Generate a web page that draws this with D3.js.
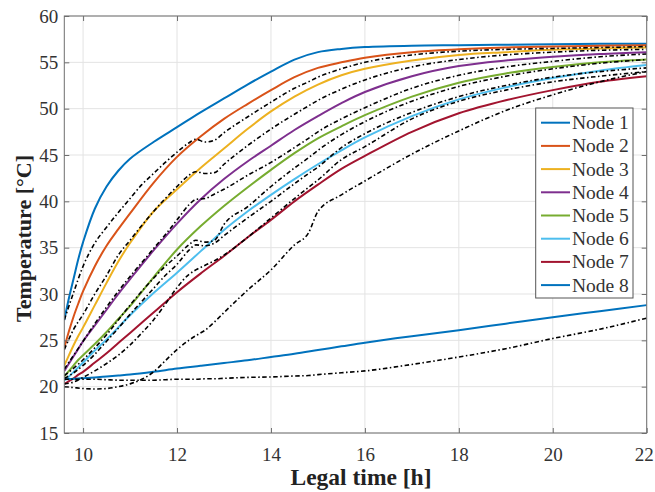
<!DOCTYPE html>
<html><head><meta charset="utf-8">
<script src="https://cdn.jsdelivr.net/npm/d3@7"></script>
<style>body{margin:0;background:#fff}</style></head>
<body>
<svg id="chart" width="655" height="492"></svg>
<script>
// ---------- data ----------
const xTicks = [10, 12, 14, 16, 18, 20, 22];
const yTicks = [15, 20, 25, 30, 35, 40, 45, 50, 55, 60];
const nodeNames = ["Node 1","Node 2","Node 3","Node 4","Node 5","Node 6","Node 7","Node 8"];
const nodeColors = ["#0072BD","#D95319","#EDB120","#7E2F8E","#77AC30","#4DBEEE","#A2142F","#0072BD"];

// simulated (model) curves
const tModel = [9.6, 9.7, 9.8, 9.9, 10, 10.25, 10.5, 10.75, 11, 11.5, 12, 12.5, 13, 13.5, 14, 14.5, 15, 15.5, 16, 17, 18, 19, 20, 21, 22];
const node1 = [27.2, 29.6, 31.7, 33.8, 35.6, 39.2, 41.6, 43.3, 44.6, 46.4, 48.0, 49.6, 51.1, 52.6, 54.0, 55.3, 56.1, 56.45, 56.65, 56.8, 56.85, 56.9, 56.95, 57.0, 57.0];
const node2 = [24.2, 26.0, 27.6, 29.0, 30.3, 33.0, 35.2, 37.0, 38.7, 42.0, 44.8, 47.0, 48.9, 50.5, 52.0, 53.4, 54.4, 55.0, 55.5, 56.1, 56.4, 56.6, 56.7, 56.8, 56.85];
const node3 = [22.3, 23.4, 24.5, 25.5, 26.4, 28.8, 31.2, 33.5, 35.5, 38.9, 41.3, 43.6, 45.7, 47.8, 49.7, 51.3, 52.6, 53.6, 54.3, 55.2, 55.8, 56.1, 56.35, 56.5, 56.6];
const node4 = [21.7, 22.5, 23.3, 24.1, 24.9, 26.6, 28.3, 30.0, 31.6, 34.7, 37.6, 40.2, 42.4, 44.3, 46.0, 47.7, 49.2, 50.6, 51.8, 53.5, 54.6, 55.2, 55.6, 55.9, 56.1];
const node5 = [21.1, 21.7, 22.3, 22.9, 23.4, 24.6, 25.9, 27.3, 28.7, 31.8, 34.8, 37.3, 39.5, 41.5, 43.4, 45.2, 46.8, 48.1, 49.3, 51.3, 52.8, 53.8, 54.5, 55.0, 55.3];
const node6 = [20.7, 21.1, 21.6, 22.1, 22.6, 23.9, 25.1, 26.4, 27.7, 30.1, 32.3, 34.6, 36.9, 38.9, 40.7, 42.4, 44.0, 45.5, 46.9, 49.2, 51.0, 52.3, 53.3, 54.1, 54.7];
const node7 = [20.3, 20.6, 20.9, 21.3, 21.6, 22.6, 23.6, 24.7, 25.8, 28.0, 30.2, 32.2, 34.1, 36.1, 38.0, 40.0, 41.8, 43.5, 44.9, 47.5, 49.5, 50.9, 52.0, 52.9, 53.5];
const node8 = [20.8, 20.82, 20.85, 20.88, 20.92, 21.0, 21.1, 21.2, 21.3, 21.6, 21.95, 22.25, 22.55, 22.85, 23.2, 23.55, 23.95, 24.35, 24.75, 25.45, 26.1, 26.8, 27.5, 28.15, 28.8];

// measured curves (black dash-dot)
const tMeas = [9.6, 9.8, 10, 10.25, 10.5, 10.75, 11, 11.25, 11.5, 11.75, 12, 12.25, 12.4, 12.6, 12.8, 13, 13.5, 14, 14.5, 14.8, 15, 15.5, 16, 17, 18, 19, 20, 21, 22];
const meas1 = [27.2, 30.2, 33.0, 35.5, 37.2, 38.8, 40.3, 41.8, 43.0, 44.2, 45.3, 46.3, 46.7, 46.4, 46.6, 47.4, 49.1, 50.7, 52.2, 52.9, 53.4, 54.3, 55.0, 55.8, 56.2, 56.4, 56.5, 56.6, 56.7];
const meas2 = [24.0, 26.2, 27.8, 30.0, 32.0, 34.2, 35.8, 37.4, 38.9, 40.3, 41.6, 42.8, 43.2, 43.0, 43.1, 44.0, 46.0, 47.8, 49.4, 50.3, 50.9, 52.1, 53.1, 54.5, 55.3, 55.8, 56.1, 56.3, 56.4];
const meas3 = [21.9, 23.4, 24.9, 26.8, 28.6, 30.3, 31.9, 33.4, 34.9, 36.4, 38.0, 39.6, 40.2, 40.3, 40.8, 41.3, 42.8, 44.2, 45.8, 46.8, 47.5, 48.9, 50.1, 52.2, 53.6, 54.5, 55.1, 55.6, 55.9];
const meas4 = [21.2, 22.0, 22.9, 24.2, 25.6, 27.2, 28.8, 30.3, 31.7, 33.0, 34.1, 35.3, 35.8, 35.6, 35.8, 37.5, 39.4, 41.6, 43.6, 44.7, 45.5, 47.2, 48.6, 50.8, 52.4, 53.5, 54.3, 54.9, 55.3];
const meas5 = [20.9, 21.5, 22.3, 23.5, 24.9, 26.3, 27.8, 29.2, 30.6, 32.0, 33.2, 34.7, 35.3, 35.2, 35.5, 36.3, 38.2, 40.0, 41.9, 43.0, 43.7, 45.8, 47.3, 49.6, 51.3, 52.5, 53.4, 54.0, 54.4];
const meas6 = [20.3, 20.5, 21.0, 21.7, 22.5, 23.4, 24.5, 25.8, 27.2, 28.9, 30.7, 32.1, 32.6, 33.1, 33.6, 34.2, 36.1, 38.2, 40.3, 41.5, 42.3, 44.5, 45.9, 48.9, 50.8, 52.0, 52.9, 53.5, 54.0];
const meas7 = [20.0, 19.9, 19.8, 19.75, 19.8, 20.0, 20.3, 20.8, 21.6, 22.8, 24.0, 25.0, 25.5, 26.1, 27.0, 28.0, 30.4, 32.6, 35.3, 36.6, 38.9, 40.7, 42.2, 45.1, 47.6, 49.8, 51.5, 52.9, 54.0];
const meas8 = [20.8, 20.8, 20.8, 20.8, 20.75, 20.7, 20.7, 20.7, 20.7, 20.75, 20.8, 20.8, 20.8, 20.85, 20.85, 20.9, 21.0, 21.05, 21.15, 21.2, 21.3, 21.5, 21.7, 22.4, 23.2, 24.1, 25.2, 26.2, 27.4];

const modelSeries = [node1, node2, node3, node4, node5, node6, node7, node8];
const measSeries = [meas1, meas2, meas3, meas4, meas5, meas6, meas7, meas8];

// ---------- layout ----------
const W = 655, H = 492;
const m = {left: 64.3, right: 8.3, top: 16, bottom: 59};
const svg = d3.select("#chart");
const x = d3.scaleLinear().domain([9.6, 22]).range([m.left, W - m.right]);
const y = d3.scaleLinear().domain([15, 60]).range([H - m.bottom, m.top]);
const font = "'Liberation Serif','Times New Roman',serif";
const axisCol = "#6e6e6e";
const textCol = "#333";

// grid
const grid = svg.append("g");
grid.selectAll("line.gx").data(xTicks).join("line")
  .attr("x1", d => x(d)).attr("x2", d => x(d))
  .attr("y1", y(15)).attr("y2", y(60))
  .attr("stroke", "#e3e3e3").attr("stroke-width", 1);
grid.selectAll("line.gy").data(yTicks).join("line")
  .attr("x1", x(9.6)).attr("x2", x(22))
  .attr("y1", d => y(d)).attr("y2", d => y(d))
  .attr("stroke", "#e3e3e3").attr("stroke-width", 1);

// clip
svg.append("clipPath").attr("id", "clip").append("rect")
  .attr("x", m.left).attr("y", m.top)
  .attr("width", W - m.left - m.right).attr("height", H - m.top - m.bottom);

const plot = svg.append("g").attr("clip-path", "url(#clip)");
const lineModel = d3.line().x((d, i) => x(tModel[i])).y(d => y(d)).curve(d3.curveCatmullRom.alpha(0.5));
const lineMeas = d3.line().x((d, i) => x(tMeas[i])).y(d => y(d)).curve(d3.curveMonotoneX);

modelSeries.forEach((s, k) => {
  plot.append("path").attr("d", lineModel(s))
    .attr("fill", "none").attr("stroke", nodeColors[k]).attr("stroke-width", 2);
});
measSeries.forEach(s => {
  plot.append("path").attr("d", lineMeas(s))
    .attr("fill", "none").attr("stroke", "#000").attr("stroke-width", 1.6)
    .attr("stroke-dasharray", "4.5,2.5,1.5,2.5");
});

// axes
function styleAxis(g) {
  g.select(".domain").remove();
  g.selectAll(".tick line").attr("stroke", axisCol);
  g.selectAll("text").attr("fill", textCol).style("font-family", font).style("font-size", "19px");
}
const xAxisG = svg.append("g").attr("transform", `translate(0,${y(15)})`)
  .call(d3.axisBottom(x).tickValues(xTicks).tickSizeInner(-5).tickSizeOuter(0).tickPadding(15))
  .call(styleAxis);
xAxisG.selectAll(".tick text").filter(d => d === 22).attr("dx", -3);
svg.append("g").attr("transform", `translate(0,${y(60)})`)
  .call(d3.axisTop(x).tickValues(xTicks).tickSizeInner(-5).tickSizeOuter(0).tickFormat(""))
  .call(styleAxis);
svg.append("g").attr("transform", `translate(${x(9.6)},0)`)
  .call(d3.axisLeft(y).tickValues(yTicks).tickSizeInner(-5).tickSizeOuter(0).tickPadding(6))
  .call(styleAxis);
svg.append("g").attr("transform", `translate(${x(22)},0)`)
  .call(d3.axisRight(y).tickValues(yTicks).tickSizeInner(-5).tickSizeOuter(0).tickFormat(""))
  .call(styleAxis);

// box
svg.append("rect").attr("x", x(9.6)).attr("y", y(60))
  .attr("width", x(22) - x(9.6)).attr("height", y(15) - y(60))
  .attr("fill", "none").attr("stroke", axisCol).attr("stroke-width", 1);

// axis titles
svg.append("text").attr("x", 361).attr("y", 485)
  .attr("text-anchor", "middle").attr("fill", "#222")
  .style("font-family", font).style("font-weight", "bold").style("font-size", "23.5px")
  .text("Legal time [h]");
svg.append("text").attr("transform", "translate(31,238.5) rotate(-90)")
  .attr("text-anchor", "middle").attr("fill", "#222")
  .style("font-family", font).style("font-weight", "bold").style("font-size", "22px")
  .text("Temperature [°C]");

// legend
const lg = svg.append("g");
lg.append("rect").attr("x", 535.7).attr("y", 108).attr("width", 97.3).attr("height", 190)
  .attr("fill", "#fff").attr("stroke", "#555").attr("stroke-width", 1);
nodeNames.forEach((n, k) => {
  const cy = 122.7 + k * 23.2;
  lg.append("line").attr("x1", 541).attr("x2", 570).attr("y1", cy).attr("y2", cy)
    .attr("stroke", nodeColors[k]).attr("stroke-width", 2);
  lg.append("text").attr("x", 572).attr("y", cy + 6.5).attr("fill", textCol)
    .style("font-family", font).style("font-size", "19.5px").text(n);
});
</script>
</body></html>
